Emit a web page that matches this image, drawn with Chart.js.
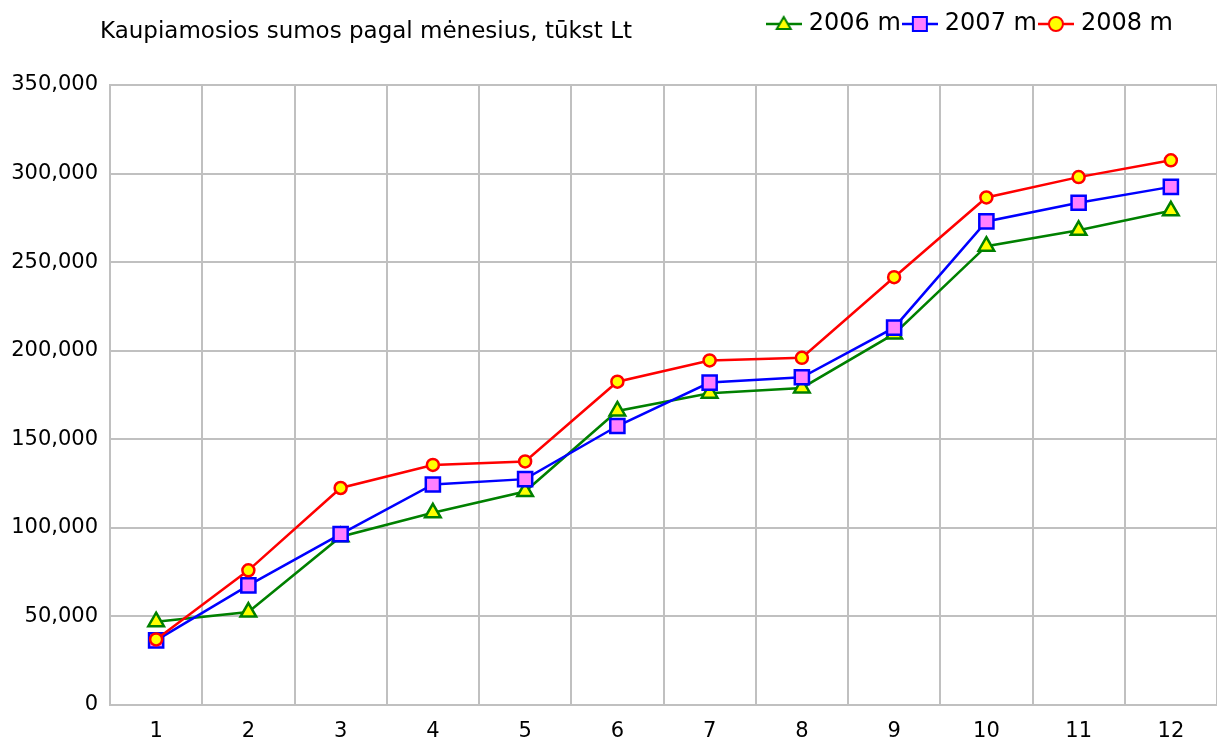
<!DOCTYPE html>
<html>
<head>
<meta charset="utf-8">
<script src="https://cdn.jsdelivr.net/npm/chart.js@4"></script>
<style>
  html, body { margin: 0; padding: 0; background: #fff; overflow: hidden; }
  #wrap { position: relative; width: 1217px; height: 743px; }
  #salesChart { display: block; }
  #title {
    position: absolute; left: 100px; top: 17px;
    font: 23px "DejaVu Sans", sans-serif; color: #000;
  }
</style>
</head>
<body>
<div id="wrap">
  <div id="title">Kaupiamosios sumos pagal mėnesius, tūkst Lt</div>
  <canvas id="salesChart" width="1217" height="743"></canvas>
</div>
<script>
const months = ['1', '2', '3', '4', '5', '6', '7', '8', '9', '10', '11', '12'];
const seriesNames = ['2006 m', '2007 m', '2008 m'];
const sums2006 = [47000, 52500, 95000, 108500, 120500, 166000, 176000, 179000, 209500, 259000, 268000, 279000];
const sums2007 = [36500, 67500, 96500, 124500, 127500, 157500, 182000, 185000, 213000, 273000, 283500, 292500];
const sums2008 = [37000, 76000, 122500, 135500, 137500, 182500, 194500, 196000, 241500, 286500, 298000, 307500];
const yTicks = [0, 50000, 100000, 150000, 200000, 250000, 300000, 350000];

const FONT = '"DejaVu Sans", sans-serif';
const GRID = '#c0c0c0';

// little line+marker pictures for the legend
function legendIcon(lineColor, fill, shape) {
  const cv = document.createElement('canvas');
  cv.width = 36; cv.height = 20;
  const ctx = cv.getContext('2d');
  ctx.strokeStyle = lineColor;
  ctx.lineWidth = 2.5;
  ctx.beginPath(); ctx.moveTo(0, 10); ctx.lineTo(36, 10); ctx.stroke();
  ctx.fillStyle = fill;
  ctx.lineWidth = 2;
  ctx.beginPath();
  if (shape === 'triangle') {
    ctx.moveTo(18, 3); ctx.lineTo(25, 15); ctx.lineTo(11, 15); ctx.closePath();
  } else if (shape === 'rect') {
    ctx.rect(11, 3, 14, 14);
  } else {
    ctx.arc(18, 10, 7, 0, Math.PI * 2);
  }
  ctx.fill(); ctx.stroke();
  return cv;
}

const icons = [
  legendIcon('#008000', '#ffff00', 'triangle'),
  legendIcon('#0000ff', '#ff80ff', 'rect'),
  legendIcon('#ff0000', '#ffff00', 'circle')
];

// push the plot down below the legend row and pull the legend in from the right edge
const legendGap = {
  id: 'legendGap',
  afterInit(chart) {
    const fit = chart.legend.fit;
    chart.legend.fit = function () { fit.call(this); this.height += 39; };
  },
  afterLayout(chart) { chart.legend.right = 1217 - 38; }
};

Chart.defaults.font.family = FONT;
Chart.defaults.color = '#000';

new Chart(document.getElementById('salesChart'), {
  type: 'line',
  data: {
    labels: months,
    datasets: [
      {
        label: seriesNames[0], data: sums2006, order: 3,
        borderColor: '#008000', borderWidth: 2.5,
        pointStyle: 'triangle', pointRadius: 9, pointBorderWidth: 2.5,
        pointBackgroundColor: '#ffff00', pointBorderColor: '#008000'
      },
      {
        label: seriesNames[1], data: sums2007, order: 2,
        borderColor: '#0000ff', borderWidth: 2.5,
        pointStyle: 'rect', pointRadius: 10, pointBorderWidth: 2.5,
        pointBackgroundColor: '#ff80ff', pointBorderColor: '#0000ff'
      },
      {
        label: seriesNames[2], data: sums2008, order: 1,
        borderColor: '#ff0000', borderWidth: 2.5,
        pointStyle: 'circle', pointRadius: 6, pointBorderWidth: 2.5,
        pointBackgroundColor: '#ffff00', pointBorderColor: '#ff0000'
      }
    ]
  },
  plugins: [legendGap],
  options: {
    responsive: false,
    animation: false,
    layout: { autoPadding: false, padding: { top: 6, right: 0, left: 0, bottom: 0 } },
    plugins: {
      tooltip: { enabled: false },
      legend: {
        position: 'top',
        align: 'end',
        labels: {
          font: { size: 24 },
          usePointStyle: true,
          pointStyleWidth: 26,
          padding: 6,
          sort: (a, b) => a.datasetIndex - b.datasetIndex,
          generateLabels: (chart) => {
            const items = Chart.defaults.plugins.legend.labels.generateLabels(chart);
            items.forEach(it => { it.pointStyle = icons[it.datasetIndex]; });
            return items;
          }
        }
      }
    },
    scales: {
      x: {
        offset: true,
        grid: { color: GRID, lineWidth: 2, drawTicks: false, offset: true },
        border: { color: GRID, width: 2 },
        ticks: { font: { size: 21 }, padding: 14 },
        afterFit: (scale) => { scale.height = 38; }
      },
      y: {
        min: 0,
        max: 350000,
        afterBuildTicks: (scale) => { scale.ticks = yTicks.map(v => ({ value: v })); },
        grid: { color: GRID, lineWidth: 2, drawTicks: false },
        border: { color: GRID, width: 2 },
        ticks: { font: { size: 21 }, padding: 12 },
        afterFit: (scale) => { scale.width = 110; }
      }
    }
  }
});
</script>
</body>
</html>
